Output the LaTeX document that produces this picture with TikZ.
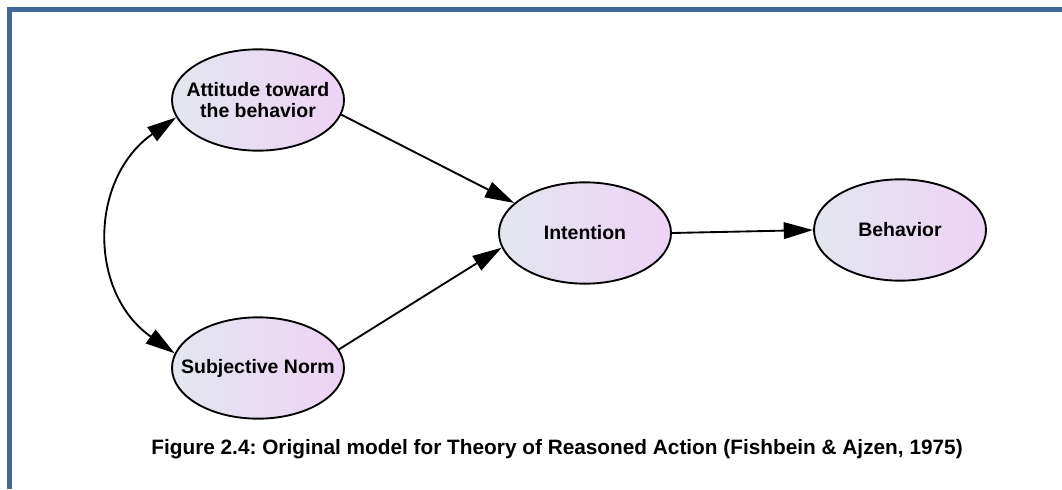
\documentclass[tikz,border=0pt]{standalone}
\usepackage{fontspec}
\setmainfont{Liberation Sans}
\usetikzlibrary{positioning}
\usetikzlibrary{shapes.geometric}
\usetikzlibrary{arrows.meta}
\definecolor{framebl}{RGB}{65,104,152}
\definecolor{fillL}{RGB}{227,230,239}
\definecolor{fillR}{RGB}{237,211,244}
\frenchspacing

\begin{document}
\begin{tikzpicture}[x=0.75pt, y=-0.75pt,
		construct/.style={ellipse, draw, line width=1.4pt,
			minimum width=129pt, minimum height=76pt, inner sep=0pt,
			left color=fillL, right color=fillR,
			label={[anchor=center, align=center, font=\bfseries\fontsize{14.6}{16}\selectfont]center:#1}
		},
		link/.style={line width=1.4pt, -{Triangle[length=22pt,width=12.5pt]}}]
		
		\useasboundingbox (0,0) rectangle (1062,489);
		\draw[framebl, line width=3.8pt] (9.8,489) -- (9.8,9.8) -- (1062,9.8);
		
		\node[construct={Attitude toward\\the behavior}] (att) at (258,100) {};
		\node[construct={Subjective Norm}] (sn) at (258,368) {};
		\node[construct={Intention}] (int) at (585,233) {};
		\node[construct={Behavior}] (beh) at (900,230) {};
		
		\draw[link] (att.-10) -- (int.157);
		\draw[link] (sn.13) -- (int.-170);
		\draw[link] (int.east) -- (beh.west);
		\draw[link, {Triangle[length=22pt,width=12.5pt]}-{Triangle[length=22pt,width=12.5pt]}]
			(att.192) to[out=215, in=145, looseness=1.15] (sn.170);
		
		\node[font=\bfseries\fontsize{15.6}{17}\selectfont] (cap) at (557,449)
			{Figure 2.4: Original model for Theory of Reasoned Action (Fishbein \& Ajzen, 1975)};
	\end{tikzpicture}
\end{document}
